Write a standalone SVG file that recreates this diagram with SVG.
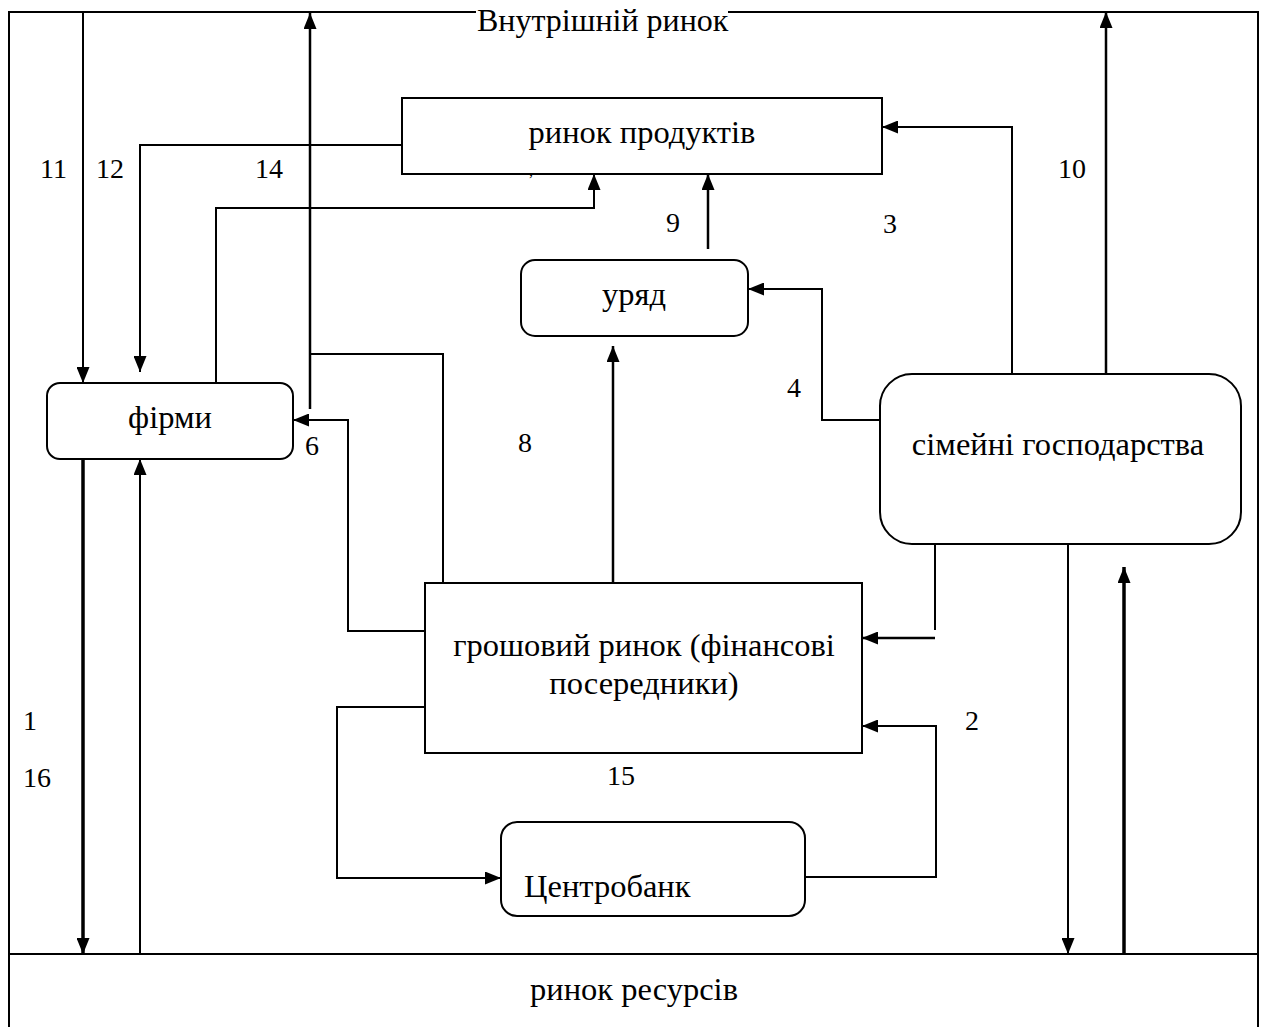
<svg xmlns="http://www.w3.org/2000/svg" width="1262" height="1027" viewBox="0 0 1262 1027">
<defs>
<style>
.t{font-family:"Liberation Serif","Times New Roman",serif;font-size:28px;fill:#000}
.L{font-size:32.5px}
.m{text-anchor:middle}
.box{fill:#fff;stroke:#000;stroke-width:2}
.ln{fill:none;stroke:#000;stroke-width:2}
.th{fill:none;stroke:#000;stroke-width:3.5}
.md{fill:none;stroke:#000;stroke-width:2.5}
</style>
<marker id="ah" viewBox="0 0 16 13" refX="16" refY="6.5" markerWidth="16" markerHeight="13" markerUnits="userSpaceOnUse" orient="auto"><path d="M0,0 L16,6.5 L0,13 z" fill="#000"/></marker>
</defs>
<rect width="1262" height="1027" fill="#fff"/>
<g id="frame">
<path class="ln" d="M476,12 H9 V1027"/>
<path class="ln" d="M728,12 H1258 V1027"/>
<text class="t" x="477" y="31" style="font-size:32px">Внутрішній ринок</text>
</g>
<g id="resource-market">
<path class="ln" d="M9,954 H1258"/>
<text class="t L m" x="634" y="1000">ринок ресурсів</text>
</g>
<g id="connectors">
<path class="ln" d="M83,12 V383" marker-end="url(#ah)"/>
<path class="ln" d="M405,145 H140 V372" marker-end="url(#ah)"/>
<path class="md" d="M310,409 V13" marker-end="url(#ah)"/>
<path class="ln" d="M310,354 H443 V583"/>
<path class="ln" d="M216,383 V208 H594 V174" marker-end="url(#ah)"/>
<path class="md" d="M708,249 V174" marker-end="url(#ah)"/>
<path class="ln" d="M1012,374 V127 H882" marker-end="url(#ah)"/>
<path class="md" d="M1106,408 V12" marker-end="url(#ah)"/>
<path class="ln" d="M880,420 H822 V289 H748" marker-end="url(#ah)"/>
<path class="md" d="M613,583 V346" marker-end="url(#ah)"/>
<path class="ln" d="M425,631 H348 V420 H293" marker-end="url(#ah)"/>
<path class="ln" d="M935,544 V630"/>
<path class="md" d="M935,638 H862" marker-end="url(#ah)"/>
<path class="ln" d="M805,877 H936 V726 H862" marker-end="url(#ah)"/>
<path class="ln" d="M425,707 H337 V878 H501" marker-end="url(#ah)"/>
<path class="th" d="M83,459 V954" marker-end="url(#ah)"/>
<path class="ln" d="M140,954 V459" marker-end="url(#ah)"/>
<path class="ln" d="M1068,544 V954" marker-end="url(#ah)"/>
<path class="th" d="M1124,954 V567" marker-end="url(#ah)"/>
</g>
<g id="labels">
<text class="t" x="40" y="178">11</text>
<text class="t" x="96" y="178">12</text>
<text class="t" x="255" y="178">14</text>
<text class="t" x="1058" y="178">10</text>
<text class="t" x="666" y="232">9</text>
<text class="t" x="883" y="233">3</text>
<text class="t" x="787" y="397">4</text>
<text class="t" x="305" y="455">6</text>
<text class="t" x="518" y="452">8</text>
<text class="t" x="23" y="730">1</text>
<text class="t" x="23" y="787">16</text>
<text class="t" x="607" y="785">15</text>
<text class="t" x="965" y="730">2</text>
<text class="t" x="529" y="176" style="font-size:16px">,</text>
</g>
<g id="product-market">
<rect class="box" x="402" y="98" width="480" height="76"/>
<text class="t L m" x="642" y="143">ринок продуктів</text>
</g>
<g id="firms">
<rect class="box" x="47" y="383" width="246" height="76" rx="13"/>
<text class="t L m" x="170" y="428">фірми</text>
</g>
<g id="government">
<rect class="box" x="521" y="260" width="227" height="76" rx="14"/>
<text class="t L m" x="634" y="305">уряд</text>
</g>
<g id="households">
<rect class="box" x="880" y="374" width="361" height="170" rx="32"/>
<text class="t L m" x="1058" y="455">сімейні господарства</text>
</g>
<g id="money-market">
<rect class="box" x="425" y="583" width="437" height="170"/>
<text class="t L m" x="644" y="656">грошовий ринок (фінансові</text>
<text class="t L m" x="644" y="694">посередники)</text>
</g>
<g id="central-bank">
<rect class="box" x="501" y="822" width="304" height="94" rx="16"/>
<text class="t L" x="524" y="897">Центробанк</text>
</g>
</svg>
